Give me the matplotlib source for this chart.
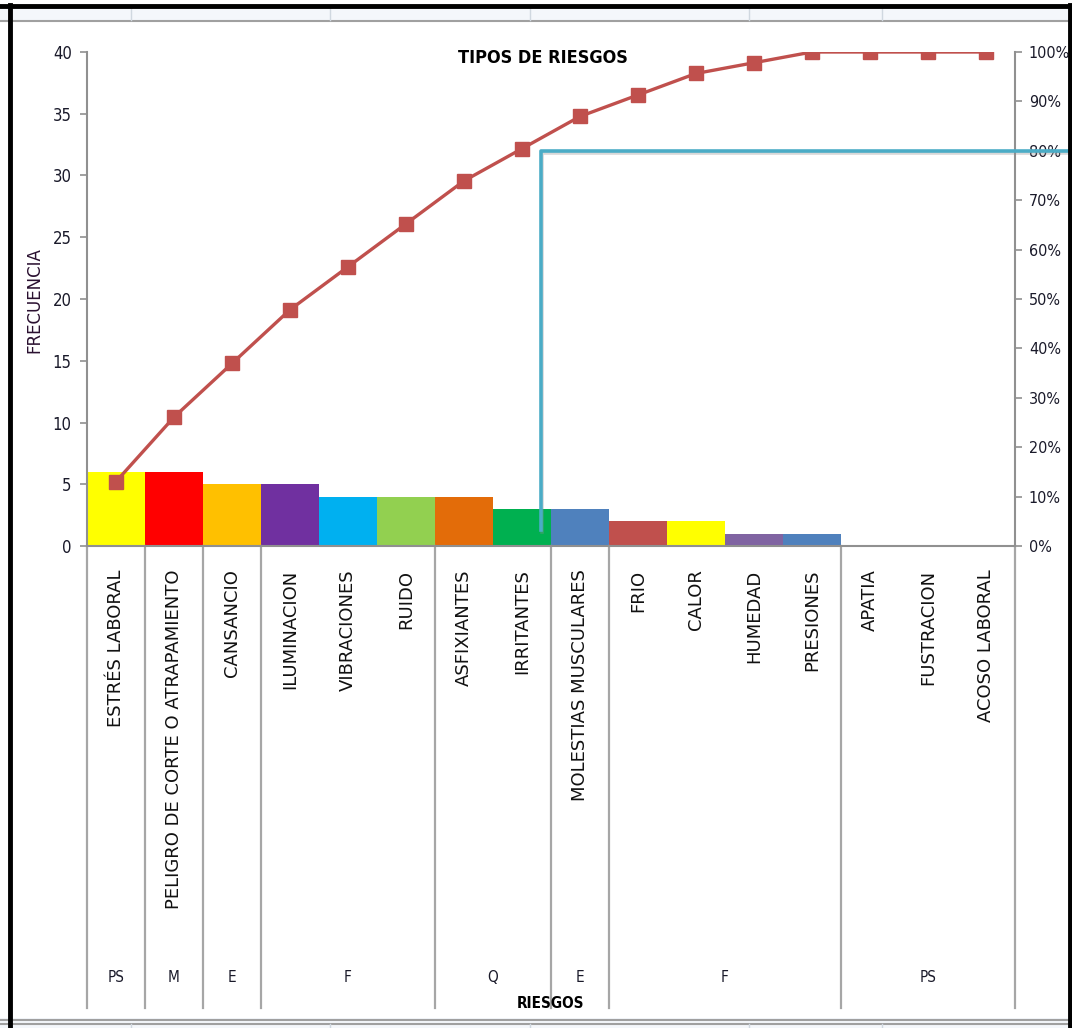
import numpy as np
import matplotlib
matplotlib.use("Agg")
import matplotlib.pyplot as plt
import matplotlib.patheffects as pe
from matplotlib.lines import Line2D
from matplotlib.patches import Rectangle
from matplotlib.ticker import PercentFormatter

# data
riesgos = ["ESTRÉS LABORAL", "PELIGRO DE CORTE O ATRAPAMIENTO", "CANSANCIO",
           "ILUMINACION", "VIBRACIONES", "RUIDO", "ASFIXIANTES", "IRRITANTES",
           "MOLESTIAS MUSCULARES", "FRIO", "CALOR", "HUMEDAD", "PRESIONES",
           "APATIA", "FUSTRACION", "ACOSO LABORAL"]
frecuencia = [6, 6, 5, 5, 4, 4, 4, 3, 3, 2, 2, 1, 1, 0, 0, 0]
grupos = ["PS", "M", "E", "F", "Q", "E", "F", "PS"]
grupo_n = [1, 1, 1, 3, 2, 1, 4, 3]

colores = ["#FFFF00", "#FF0000", "#FFC000", "#7030A0", "#00B0F0", "#92D050",
           "#E36C09", "#00B050", "#4F81BD", "#C0504D", "#FFFF00", "#8064A2",
           "#4F81BD", "#4F81BD", "#4F81BD", "#4F81BD"]

W, H = 1072, 1028
narrow = dict(family="DejaVu Sans", stretch="condensed")

fig = plt.figure(figsize=(W / 100, H / 100), dpi=100)
fig.patch.set_facecolor("white")

def fx(px):
    return px / W

def fy(py):
    return 1 - py / H

ax = fig.add_axes([fx(87), fy(546), fx(1015) - fx(87), fy(52) - fy(546)])
x = np.arange(len(riesgos))
ax.bar(x, frecuencia, width=1.0, color=colores, edgecolor="none", zorder=2)
ax.set_xlim(-0.5, len(riesgos) - 0.5)
ax.set_ylim(0, 40)
ax.set_yticks(range(0, 41, 5))
for s in ["top", "right"]:
    ax.spines[s].set_visible(False)
for s in ["left", "bottom"]:
    ax.spines[s].set_color("#909090")
    ax.spines[s].set_linewidth(1.5)
ax.tick_params(axis="y", colors="#909090", length=5, width=1.2, labelcolor="#1a1a2a",
               labelsize=12, pad=6)
for t in ax.get_yticklabels():
    t.set_family("DejaVu Sans")
    t.set_stretch("condensed")
ax.set_xticks(x)
ax.set_xticklabels(riesgos, rotation=90, fontsize=13, family="DejaVu Sans",
                   va="top", ha="center", color="#111111")
ax.tick_params(axis="x", length=0, pad=17)

ax.set_ylabel("FRECUENCIA", fontsize=12, color="#2a1030", family="DejaVu Sans")
ax.yaxis.set_label_coords(-(87 - 43) / (1015 - 87), (546 - 300) / 494)

# group level of the category axis
trans = ax.get_xaxis_transform()
lim = np.concatenate([[0], np.cumsum(grupo_n)]) - 0.5
for b in lim:
    ax.add_line(Line2D([b, b], [0, -(1008 - 546) / 494], transform=trans,
                       color="#A6A6A6", lw=1.6, clip_on=False))
for g, a, b in zip(grupos, lim[:-1], lim[1:]):
    ax.text((a + b) / 2, -(978 - 546) / 494, g, transform=trans, ha="center",
            va="center", fontsize=11, color="#1a1a2a", **narrow)
ax.text((lim[0] + lim[-1]) / 2, -(1003 - 546) / 494, "RIESGOS", transform=trans,
        ha="center", va="center", fontsize=11, fontweight="bold", **narrow)

# cumulative percentage
ax2 = ax.twinx()
acum = np.cumsum(frecuencia) / np.sum(frecuencia)
ax2.plot(x, acum, color="#C0504D", lw=2.4, marker="s", markersize=10,
         markeredgecolor="#C0504D", zorder=4)
ax2.set_ylim(0, 1)
ax2.set_yticks(np.arange(0, 1.01, 0.1))
ax2.yaxis.set_major_formatter(PercentFormatter(1.0, decimals=0))
for s in ["top", "left", "bottom"]:
    ax2.spines[s].set_visible(False)
ax2.spines["right"].set_color("#909090")
ax2.spines["right"].set_linewidth(1.5)
ax2.tick_params(axis="y", colors="#909090", length=5, width=1.2, labelcolor="#1a1a2a",
                labelsize=11.5, pad=5)
for t in ax2.get_yticklabels():
    t.set_family("DejaVu Sans")
    t.set_stretch("condensed")

# 80 % line
i80 = int(np.argmax(acum >= 0.8))
x80 = i80 + 0.33
shadow = [pe.SimpleLineShadow(offset=(0.5, -1.5), shadow_color="#909090", alpha=0.35),
          pe.Normal()]
ax2.plot([x80, x80, len(riesgos) + 0.5], [1.3 / 40, 0.8, 0.8], color="#4BACC6",
         lw=2.6, clip_on=False, zorder=5, path_effects=shadow)

fig.suptitle("TIPOS DE RIESGOS", x=fx(543), y=fy(58), va="center", fontsize=13,
             fontweight="bold", **narrow)

# worksheet frame around the chart
fig.add_artist(Rectangle((0, fy(20)), 1, fy(7) - fy(20), transform=fig.transFigure,
                         facecolor="#F4F7FB", edgecolor="none"))
fig.add_artist(Line2D([0, 1], [fy(20.5), fy(20.5)], color="#A0A0A0", lw=1.5))
fig.add_artist(Rectangle((0, 0), 1, fy(1018), transform=fig.transFigure,
                         facecolor="#F4F7FB", edgecolor="none"))
fig.add_artist(Line2D([0, 1], [fy(1020), fy(1020)], color="#A0A0A0", lw=1.5))
fig.add_artist(Line2D([0, 1], [fy(1024), fy(1024)], color="#A0A0A0", lw=1.5))
for cx in [131, 330, 530, 749, 882]:
    fig.add_artist(Line2D([fx(cx), fx(cx)], [fy(20), fy(8)], color="#D0D8E0", lw=1))
    fig.add_artist(Line2D([fx(cx), fx(cx)], [fy(1024), fy(1028)], color="#D0D8E0", lw=1))
fig.add_artist(Line2D([0, 1], [fy(6), fy(6)], color="black", lw=3.5))
fig.add_artist(Line2D([fx(10), fx(10)], [0, fy(5)], color="black", lw=3.5))
fig.add_artist(Line2D([fx(1069.5), fx(1069.5)], [0, fy(5)], color="black", lw=3.5))

fig.savefig("out.png", dpi=100)
